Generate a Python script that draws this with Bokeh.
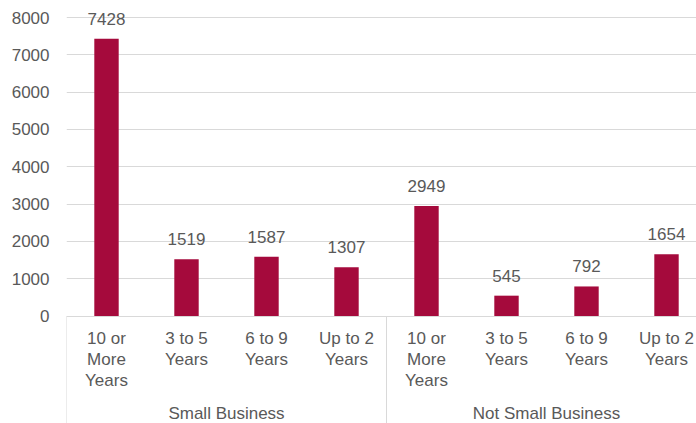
from bokeh.plotting import figure
from bokeh.models import Range1d, FixedTicker, ColumnDataSource
from bokeh.core.properties import value
from bokeh.embed import file_html
from bokeh.resources import INLINE

# ---- data ----
groups = ["Small Business", "Not Small Business"]
tenure = ["10 or\nMore\nYears", "3 to 5\nYears", "6 to 9\nYears", "Up to 2\nYears"]
small_business = [7428, 1519, 1587, 1307]
not_small_business = [2949, 545, 792, 1654]
y_ticks = [0, 1000, 2000, 3000, 4000, 5000, 6000, 7000, 8000]

values = small_business + not_small_business
cats = tenure + tenure
xs = list(range(len(values)))
n_per_group = len(tenure)

BAR = "#A50A3C"
TXT = "#595959"
GRID = "#D9D9D9"
FONT = "Liberation Sans"
FS = "17px"

p = figure(width=696, height=423, output_backend="svg", toolbar_location=None,
           x_range=Range1d(-0.5, 7.375), y_range=Range1d(-2881, 8456),
           x_axis_location=None, min_border_left=66, min_border_right=0,
           min_border_top=0, min_border_bottom=0)
p.outline_line_color = None
p.xgrid.visible = False

yax = p.yaxis[0]
yax.ticker = FixedTicker(ticks=y_ticks)
yax.axis_line_color = None
yax.major_tick_line_color = None
yax.minor_tick_line_color = None
yax.major_tick_out = 0
yax.major_label_standoff = 17
yax.major_label_text_font = FONT
yax.major_label_text_font_size = FS
yax.major_label_text_color = TXT
p.ygrid.grid_line_color = GRID
p.ygrid.grid_line_width = 1

src = ColumnDataSource(dict(x=xs, v=values, lbl=[str(v) for v in values], cat=cats,
                            zero=[0] * len(xs)))

p.vbar(x="x", top="v", width=0.305, bottom=0, source=src, color=BAR, line_color=None)

# data labels
p.text(x="x", y="v", text="lbl", source=src, text_align="center",
       text_baseline="alphabetic", y_offset=-20, text_font=value(FONT),
       text_font_size=FS, text_color=TXT)

# category labels
p.text(x="x", y="zero", text="cat", source=src, text_align="center",
       text_baseline="top", y_offset=12.5, text_font=value(FONT),
       text_font_size=FS, text_color=TXT, text_line_height=1.13)

# group labels
gx = [(g * n_per_group) + (n_per_group - 1) / 2 for g in range(len(groups))]
p.text(x=gx, y=[0] * len(groups), text=groups, text_align="center",
       text_baseline="top", y_offset=88, text_font=value(FONT),
       text_font_size=FS, text_color=TXT)

# group separators
sep_x = [g * n_per_group - 0.5 for g in range(len(groups) + 1)]
p.segment(x0=sep_x, x1=sep_x, y0=[0] * len(sep_x), y1=[p.y_range.start] * len(sep_x),
          line_color=GRID, line_width=1)

open("out.html", "w").write(file_html(p, INLINE))
